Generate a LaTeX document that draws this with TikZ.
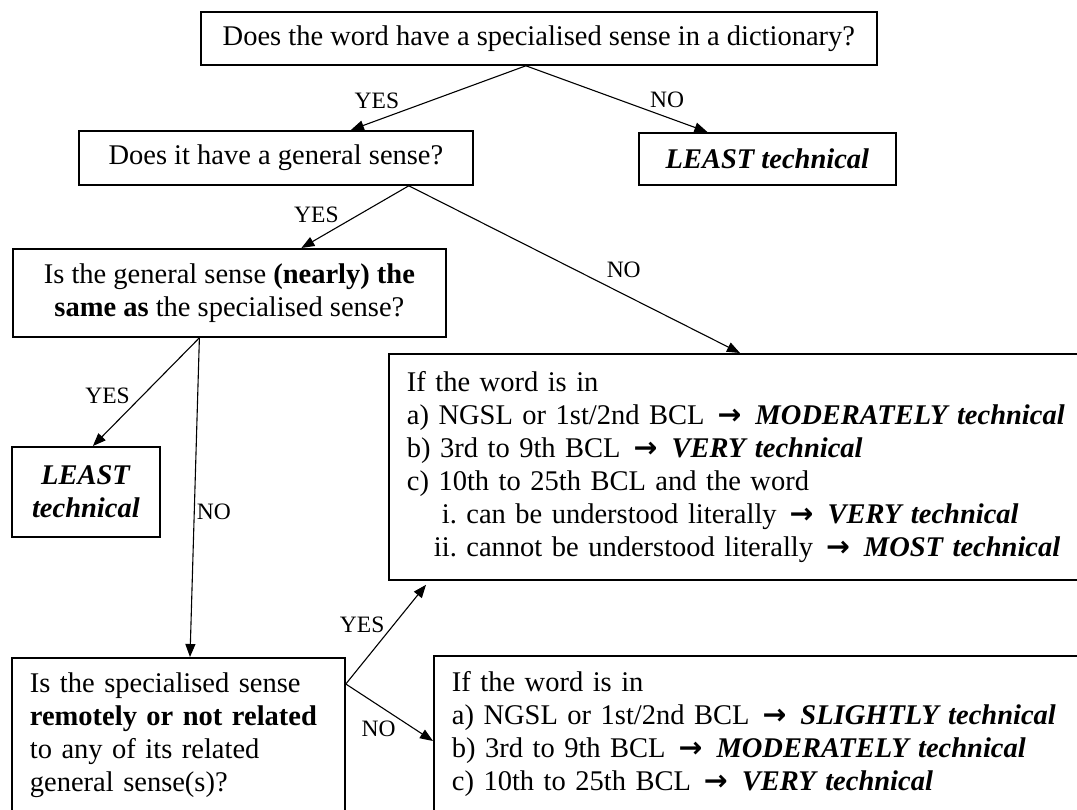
\documentclass[tikz,border=0pt]{standalone}
\usepackage{fontspec}
\setmainfont{Liberation Serif}
\newfontfamily\symfont{DejaVu Sans}
\usetikzlibrary{arrows.meta}
\newcommand{\toarrow}{\hspace{13pt}{\symfont\bfseries →}\hspace{14pt}}
\newcommand{\bi}[1]{\textbf{\textit{#1}}}
\newcommand{\qnode}[5]{%
  \node[qbox,minimum width=#3,minimum height=#4] (#1) at (#2) {#5};
}
\newcommand{\listnode}[5]{%
  \node[qbox,align=left,inner xsep=18pt,text width=#3,minimum height=#4] (#1) at (#2) {#5};
}

\begin{document}
\begin{tikzpicture}[x=1pt,y=-1pt,
  qbox/.style={draw,line width=1.8pt,anchor=north west,inner sep=0pt,
    font=\fontsize{28.5}{33}\selectfont},
  link/.style={-{Triangle[length=13pt,width=10pt]},line width=1.1pt},
  lbl/.style={font=\fontsize{23.5}{27}\selectfont,inner sep=2pt}]
  \useasboundingbox (0,0) rectangle (1077,810);
  \clip (0,0) rectangle (1077,810);

  \qnode{q1}{200,11}{676pt}{53pt}{Does the word have a specialised sense in a dictionary?}
  \qnode{q2}{78,130}{394pt}{54pt}{Does it have a general sense?}
  \qnode{least1}{638,132}{257pt}{52pt}{\bi{LEAST technical}}
  \node[qbox,align=center,minimum width=433pt,minimum height=88pt] (q3) at (12,248)
    {Is the general sense \textbf{(nearly) the}\\\textbf{same as} the specialised sense?};
  \node[qbox,align=center,minimum width=148pt,minimum height=90pt] (least2) at (11,446)
    {\bi{LEAST}\\\bi{technical}};
  \listnode{q4}{11,657}{297pt}{155pt}{Is the specialised sense\\
    \textbf{remotely or not related}\\to any of its related\\general sense(s)?}
  \listnode{r1}{388,353}{700pt}{226pt}{If the word is in\\
    a) NGSL or 1st/2nd BCL\toarrow\bi{MODERATELY technical}\\
    b) 3rd to 9th BCL\toarrow\bi{VERY technical}\\
    c) 10th to 25th BCL and the word\\
    \makebox[50pt][r]{i.} can be understood literally\toarrow\bi{VERY technical}\\
    \makebox[50pt][r]{ii.} cannot be understood literally\toarrow\bi{MOST technical}}
  \listnode{r2}{433,655}{680pt}{156pt}{If the word is in\\
    a) NGSL or 1st/2nd BCL\toarrow\bi{SLIGHTLY technical}\\
    b) 3rd to 9th BCL\toarrow\bi{MODERATELY technical}\\
    c) 10th to 25th BCL\toarrow\bi{VERY technical}}

  % where the branches leave each question
  \coordinate (q1out) at ([xshift=-13pt]q1.south);
  \coordinate (q2out) at ([xshift=-65pt]q2.south east);
  \coordinate (q3out) at ([xshift=-30pt]q3.south);
  \coordinate (q4out) at ([yshift=-27pt]q4.north east);

  \draw[link] (q1out) -- node[lbl,pos=0.71,anchor=south east] {YES} ([xshift=75pt]q2.north);
  \draw[link] (q1out) -- node[lbl,pos=0.67,anchor=south west] {NO} ([xshift=-60pt]least1.north);
  \draw[link] (q2out) -- node[lbl,pos=0.63,anchor=south east] {YES} ([xshift=72pt]q3.north);
  \draw[link] (q2out) -- node[lbl,pos=0.59,anchor=south west,yshift=4pt] {NO} ([xshift=352pt]r1.north west);
  \draw[link] (q3out) -- node[lbl,pos=0.63,anchor=south east] {YES} ([xshift=7pt]least2.north);
  \draw[link] (q3out) -- node[lbl,pos=0.545,anchor=west] {NO} ([xshift=179pt]q4.north west);
  \draw[link] (q4out) -- node[lbl,pos=0.5,anchor=south east,inner sep=1pt] {YES} ([xshift=38pt,yshift=-4pt]r1.south west);
  \draw[link] (q4out) -- node[lbl,pos=0.6,anchor=north east] {NO} ([yshift=-86pt]r2.north west);
\end{tikzpicture}
\end{document}
